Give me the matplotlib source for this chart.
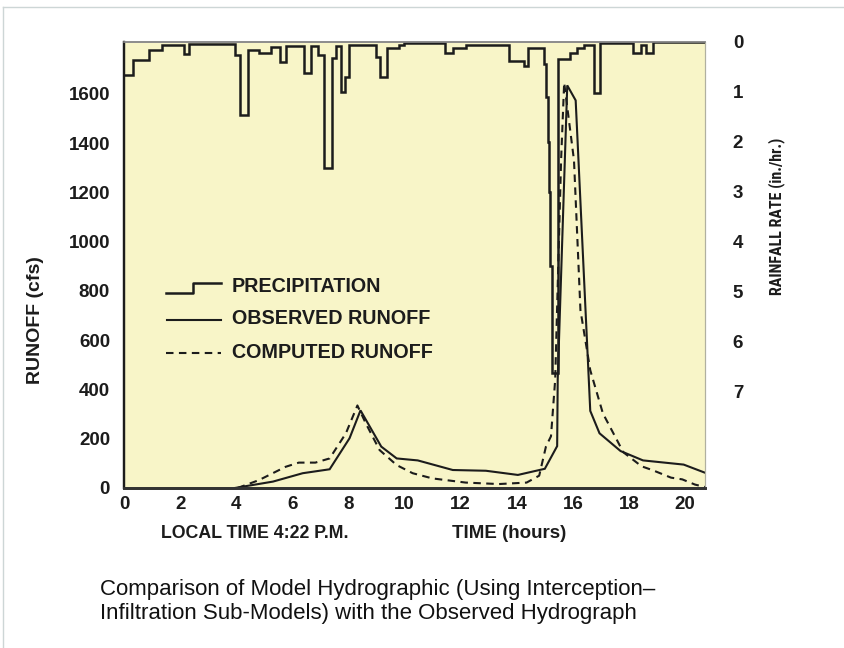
import matplotlib
matplotlib.use('Agg')
import matplotlib.pyplot as plt
from matplotlib.lines import Line2D
from matplotlib import font_manager

plt.rcParams['font.family'] = ['Liberation Sans', 'DejaVu Sans']

# ---------------- data ----------------
precip_edges = [0.0, 0.32, 0.88, 1.35, 2.13, 2.31, 3.97, 4.12, 4.42, 4.80,
                5.25, 5.55, 5.76, 6.41, 6.68, 6.91, 7.14, 7.40, 7.57, 7.72,
                7.87, 8.02, 8.98, 9.14, 9.37, 9.80, 9.98, 11.46, 11.72, 12.18,
                12.67, 13.72, 14.27, 14.39, 14.98, 15.04, 15.10, 15.15, 15.20, 15.25,
                15.46, 15.90, 16.16, 16.40, 16.75, 16.98, 18.14, 18.42, 18.61, 18.86,
                20.71]
precip_rates = [0.66, 0.36, 0.16, 0.06, 0.24, 0.04, 0.26, 1.46, 0.16, 0.22,
                0.10, 0.40, 0.08, 0.62, 0.08, 0.26, 2.52, 0.32, 0.08, 1.0,
                0.7, 0.06, 0.31, 0.7, 0.13, 0.06, 0.03, 0.22, 0.13, 0.07,
                0.07, 0.38, 0.49, 0.13, 0.45, 1.1, 2.0, 3.0, 4.5, 6.64,
                0.34, 0.22, 0.13, 0.06, 1.03, 0.03, 0.23, 0.07, 0.23, 0.0]

obs_time = [3.95, 5.31, 6.37, 7.33, 8.04, 8.43, 9.17, 9.72, 10.47, 11.72, 12.9,
            14.04, 15.0, 15.44, 15.46, 15.8, 16.1, 16.62, 16.95, 17.7, 18.5,
            19.95, 20.71]
obs_runoff = [0, 26, 60, 76, 202, 315, 168, 120, 112, 73, 70,
              53, 78, 170, 440, 1634, 1573, 313, 222, 150, 112,
              95, 62]

comp_time = [4.05, 4.81, 5.76, 6.23, 6.82, 7.33, 7.91, 8.32, 8.62, 9.11, 9.72,
             10.29, 10.99, 12.18, 13.36, 14.35, 14.8, 15.04, 15.22, 15.37, 15.58,
             15.69, 16.04, 16.27, 16.62, 17.07, 17.8, 18.45, 18.85, 19.5, 19.9,
             20.35, 20.71]
comp_runoff = [0, 32, 86, 103, 103, 120, 222, 335, 262, 154, 93,
               60, 39, 22, 16, 22, 50, 168, 210, 440, 1330,
               1645, 1330, 722, 478, 303, 145, 88, 72, 42, 35,
               14, 4]

x_ticks = list(range(0, 21, 2))
runoff_ticks = list(range(0, 1601, 200))
rain_ticks = list(range(0, 8))

legend_labels = ['PRECIPITATION', 'OBSERVED RUNOFF', 'COMPUTED RUNOFF']
caption_lines = ['Comparison of Model Hydrographic (Using Interception\u2013',
                 'Infiltration Sub-Models) with the Observed Hydrograph']

# ---------------- layout ----------------
W, H = 844, 648
L, R, T, B = 124, 705, 42, 488
fig = plt.figure(figsize=(W / 100, H / 100), dpi=100)
fig.patch.set_facecolor('white')
ax = fig.add_axes([L / W, (H - B) / H, (R - L) / W, (B - T) / H])
ax.set_facecolor('#f8f5c8')

def fx(px):
    return px / W

def fy(py):
    return 1 - py / H

def axx(px):
    return (px - L) / (R - L)

def axy(py):
    return (B - py) / (B - T)

ink = '#1c1c1c'
fs = 13.5

ax.set_xlim(0, 20.71)
ax.set_ylim(0, 1810)
ax.set_xticks(x_ticks)
ax.set_yticks(runoff_ticks)
ax.tick_params(axis='both', length=0, labelsize=fs, colors=ink)
ax.tick_params(axis='x', pad=6)
ax.tick_params(axis='y', pad=10)
for lab in ax.get_xticklabels() + ax.get_yticklabels():
    lab.set_fontweight('bold')

ax2 = ax.twinx()
ax2.set_ylim(8.94, 0)
ax2.set_yticks(rain_ticks)
ax2.tick_params(axis='y', length=0, labelsize=fs, colors=ink, pad=20)
for lab in ax2.get_yticklabels():
    lab.set_fontweight('bold')

for a in (ax, ax2):
    a.spines['left'].set_color(ink)
    a.spines['left'].set_linewidth(1.6)
    a.spines['bottom'].set_color('#333333')
    a.spines['bottom'].set_linewidth(2.0)
    a.spines['top'].set_color('#8c8c8c')
    a.spines['top'].set_linewidth(1.2)
    a.spines['right'].set_color('#b0b0a0')
    a.spines['right'].set_linewidth(0.8)

# precipitation
ax2.stairs(precip_rates, precip_edges, baseline=None, color=ink, lw=1.8)
# runoff
ax.plot(obs_time, obs_runoff, color=ink, lw=1.5, solid_joinstyle='miter')
ax.plot(comp_time, comp_runoff, color=ink, lw=1.5, linestyle=(0, (3.6, 2.6)))

# legend (drawn by hand)
tr = ax.transAxes
ax.add_line(Line2D([axx(166), axx(193), axx(193), axx(221)],
                   [axy(293), axy(293), axy(283), axy(283)],
                   transform=tr, color=ink, lw=1.8))
ax.add_line(Line2D([axx(167), axx(221)], [axy(320), axy(320)],
                   transform=tr, color=ink, lw=1.5))
ax.add_line(Line2D([axx(166), axx(221)], [axy(353), axy(353)],
                   transform=tr, color=ink, lw=1.5, linestyle=(0, (3.6, 2.6))))
for lab, py in zip(legend_labels, [287, 319, 352]):
    ax.text(axx(232), axy(py), lab, transform=tr, fontsize=14.2,
            fontweight='bold', color=ink, va='center', ha='left')

# axis titles
fig.text(fx(35), fy(320), 'RUNOFF (cfs)', rotation=90, fontsize=14,
         fontweight='bold', color=ink, ha='center', va='center')

# right title: use a narrow face when one is installed
names = {f.name for f in font_manager.fontManager.ttflist}
narrow = None
for cand in ['Liberation Sans Narrow', 'Roboto Condensed', 'Open Sans Condensed']:
    if cand in names:
        narrow = cand
        break
if narrow:
    rkw = dict(family=[narrow, 'Liberation Sans'], fontsize=11.5)
else:
    rkw = dict(family=['Liberation Sans'], fontsize=10)
fig.text(fx(777), fy(216), 'RAINFALL RATE (in./hr.)', rotation=90,
         fontweight='bold', color=ink, ha='center', va='center', **rkw)
fig.text(fx(255), fy(533), 'LOCAL TIME 4:22 P.M.', fontsize=12.8,
         fontweight='bold', color=ink, ha='center', va='center')
fig.text(fx(509), fy(533), 'TIME (hours)', fontsize=13.5,
         fontweight='bold', color=ink, ha='center', va='center')

# caption
for line, py in zip(caption_lines, [589, 613]):
    fig.text(fx(100), fy(py), line, fontsize=16, color='#111111',
             ha='left', va='center')

# faint outer frame
fig.add_artist(Line2D([fx(3), fx(3)], [0, fy(7)], transform=fig.transFigure,
                      color='#cdd6d6', lw=1))
fig.add_artist(Line2D([fx(3), 1], [fy(7), fy(7)], transform=fig.transFigure,
                      color='#cdd6d6', lw=1))

fig.savefig('out.png', dpi=100)
